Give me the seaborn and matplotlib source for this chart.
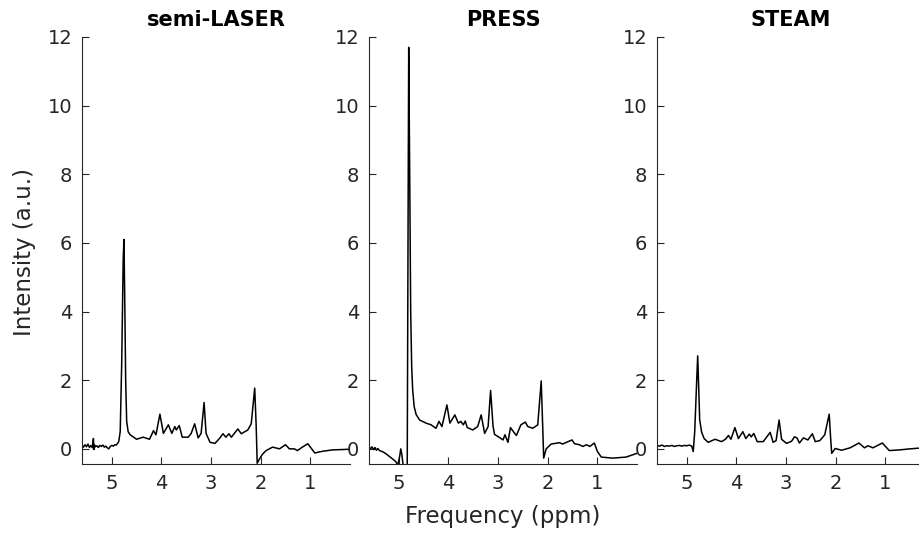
import matplotlib
matplotlib.use("Agg")
import matplotlib.pyplot as plt
import seaborn as sns
import pandas as pd

# ---- data (ppm, intensity a.u.) ----
titles = ["semi-LASER", "PRESS", "STEAM"]
x_ticks = [5, 4, 3, 2, 1]
y_ticks = [0, 2, 4, 6, 8, 10, 12]

slaser_ppm = [5.60, 5.57, 5.54, 5.51, 5.48, 5.45, 5.42, 5.39, 5.37, 5.36, 5.35, 5.33,
              5.30, 5.27, 5.24, 5.21, 5.18, 5.15, 5.12, 5.09, 5.06, 5.03, 5.00, 4.97,
              4.94, 4.91, 4.88, 4.86, 4.83, 4.80, 4.77, 4.755, 4.74, 4.72, 4.70, 4.67,
              4.63, 4.50, 4.37, 4.24, 4.16, 4.11, 4.03, 3.96, 3.86, 3.79, 3.73, 3.70,
              3.64, 3.58, 3.46, 3.40, 3.33, 3.26, 3.20, 3.14, 3.10, 3.02, 2.92, 2.82,
              2.76, 2.70, 2.64, 2.59, 2.46, 2.39, 2.26, 2.19, 2.12, 2.09, 2.07, 2.03,
              1.96, 1.89, 1.76, 1.62, 1.50, 1.42, 1.32, 1.26, 1.16, 1.05, 0.91, 0.75,
              0.55, 0.35, 0.20]
slaser_int = [0.10, 0.05, 0.12, 0.06, 0.14, 0.04, 0.10, 0.03, 0.30, -0.02, 0.12, 0.06,
              0.09, 0.04, 0.10, 0.07, 0.11, 0.05, 0.08, 0.03, 0.00, 0.07, 0.10, 0.08,
              0.12, 0.11, 0.17, 0.21, 0.50, 2.50, 5.50, 6.10, 4.50, 2.00, 0.80, 0.50,
              0.41, 0.28, 0.34, 0.28, 0.53, 0.41, 1.01, 0.45, 0.70, 0.45, 0.65, 0.55,
              0.68, 0.34, 0.34, 0.45, 0.73, 0.32, 0.45, 1.35, 0.45, 0.19, 0.16, 0.32,
              0.44, 0.34, 0.44, 0.34, 0.58, 0.44, 0.55, 0.73, 1.77, 0.65, -0.42, -0.31,
              -0.15, -0.05, 0.05, 0.00, 0.12, 0.00, 0.00, -0.05, 0.05, 0.15, -0.12, -0.07,
              -0.03, -0.02, -0.01]

press_ppm = [5.60, 5.57, 5.54, 5.51, 5.48, 5.45, 5.42, 5.39, 5.33, 5.26, 5.19, 5.12,
             5.06, 5.02, 4.98, 4.96, 4.94, 4.91, 4.88, 4.84, 4.83, 4.80, 4.78, 4.76,
             4.74, 4.72, 4.69, 4.65, 4.58, 4.45, 4.35, 4.25, 4.19, 4.13, 4.03, 3.97,
             3.87, 3.80, 3.75, 3.70, 3.66, 3.62, 3.51, 3.41, 3.34, 3.27, 3.20, 3.15,
             3.10, 3.07, 2.97, 2.90, 2.86, 2.80, 2.75, 2.69, 2.63, 2.54, 2.45, 2.40,
             2.30, 2.20, 2.13, 2.10, 2.08, 2.03, 1.93, 1.76, 1.70, 1.51, 1.46, 1.36,
             1.29, 1.22, 1.15, 1.06, 1.00, 0.92, 0.69, 0.42, 0.20]
press_int = [0.05, 0.00, 0.06, -0.02, 0.04, -0.04, 0.01, -0.05, -0.08, -0.14, -0.22, -0.30,
             -0.37, -0.48, -0.20, 0.00, -0.15, -0.50, -0.60, -0.60, -0.60, 11.70, 8.00, 4.00,
             2.40, 1.72, 1.23, 1.00, 0.84, 0.75, 0.70, 0.60, 0.80, 0.65, 1.28, 0.75,
             0.99, 0.75, 0.80, 0.70, 0.81, 0.62, 0.55, 0.65, 0.99, 0.45, 0.65, 1.70,
             0.65, 0.42, 0.33, 0.26, 0.41, 0.19, 0.62, 0.50, 0.39, 0.70, 0.78, 0.65,
             0.60, 0.70, 1.98, 0.65, -0.27, 0.00, 0.14, 0.18, 0.14, 0.26, 0.15, 0.12,
             0.07, 0.12, 0.07, 0.17, -0.07, -0.24, -0.27, -0.24, -0.13]

steam_ppm = [5.60, 5.55, 5.50, 5.45, 5.40, 5.35, 5.30, 5.25, 5.20, 5.15, 5.10, 5.05,
             5.00, 4.95, 4.90, 4.87, 4.84, 4.80, 4.78, 4.76, 4.74, 4.70, 4.65, 4.57,
             4.43, 4.30, 4.22, 4.16, 4.11, 4.03, 3.96, 3.87, 3.81, 3.74, 3.70, 3.65,
             3.58, 3.46, 3.32, 3.26, 3.20, 3.14, 3.09, 2.99, 2.89, 2.83, 2.78, 2.73,
             2.65, 2.56, 2.47, 2.41, 2.32, 2.22, 2.13, 2.10, 2.08, 2.01, 1.88, 1.71,
             1.53, 1.42, 1.35, 1.25, 1.06, 0.92, 0.71, 0.50, 0.33, 0.20]
steam_int = [0.10, 0.08, 0.11, 0.07, 0.09, 0.08, 0.10, 0.07, 0.09, 0.10, 0.08, 0.10,
             0.09, 0.11, 0.08, -0.08, 0.50, 2.00, 2.71, 1.80, 0.85, 0.48, 0.30, 0.19,
             0.28, 0.21, 0.28, 0.39, 0.28, 0.62, 0.30, 0.50, 0.30, 0.43, 0.35, 0.45,
             0.21, 0.21, 0.48, 0.19, 0.24, 0.84, 0.28, 0.16, 0.22, 0.35, 0.32, 0.17,
             0.32, 0.26, 0.44, 0.21, 0.24, 0.41, 1.01, 0.28, -0.13, 0.01, -0.04, 0.03,
             0.17, 0.03, 0.09, 0.03, 0.17, -0.05, -0.03, 0.00, 0.02, 0.03]

series = [(slaser_ppm, slaser_int), (press_ppm, press_int), (steam_ppm, steam_int)]

sns.set_style("ticks")
plt.rcParams["font.family"] = ["DejaVu Sans"]

W, H = 919, 534
fig = plt.figure(figsize=(W / 100, H / 100), dpi=100)

lefts = [82, 369, 657]
ax_w = 268
ax_bottom = 534 - 464.3
ax_top = 534 - 37
gray = "#262626"

for i, (title, (xs, ys)) in enumerate(zip(titles, series)):
    ax = fig.add_axes([lefts[i] / W, ax_bottom / H, ax_w / W, (ax_top - ax_bottom) / H])
    df = pd.DataFrame({"ppm": xs, "intensity": ys})
    sns.lineplot(data=df, x="ppm", y="intensity", ax=ax, color="black",
                 linewidth=1.1, sort=False, estimator=None)
    ax.set_xlim(5.6, 0.2)
    ax.set_ylim(-0.45, 12)
    ax.set_xticks(x_ticks)
    ax.set_yticks(y_ticks)
    ax.set_xlabel("")
    ax.set_ylabel("")
    ax.set_title(title, fontsize=15, fontweight="bold", pad=8, color="black")
    ax.tick_params(direction="in", length=5, width=0.8, labelsize=14,
                   colors=gray, pad=7)
    for s in ["top", "right"]:
        ax.spines[s].set_visible(False)
    for s in ["left", "bottom"]:
        ax.spines[s].set_color(gray)
        ax.spines[s].set_linewidth(0.8)

fig.text(25 / W, 0.528, "Intensity (a.u.)", rotation=90, ha="center", va="center",
         fontsize=16.5, color=gray)
fig.text(503 / W, 0.033, "Frequency (ppm)", ha="center", va="center",
         fontsize=16.5, color=gray)

fig.savefig("out.png", dpi=100)
